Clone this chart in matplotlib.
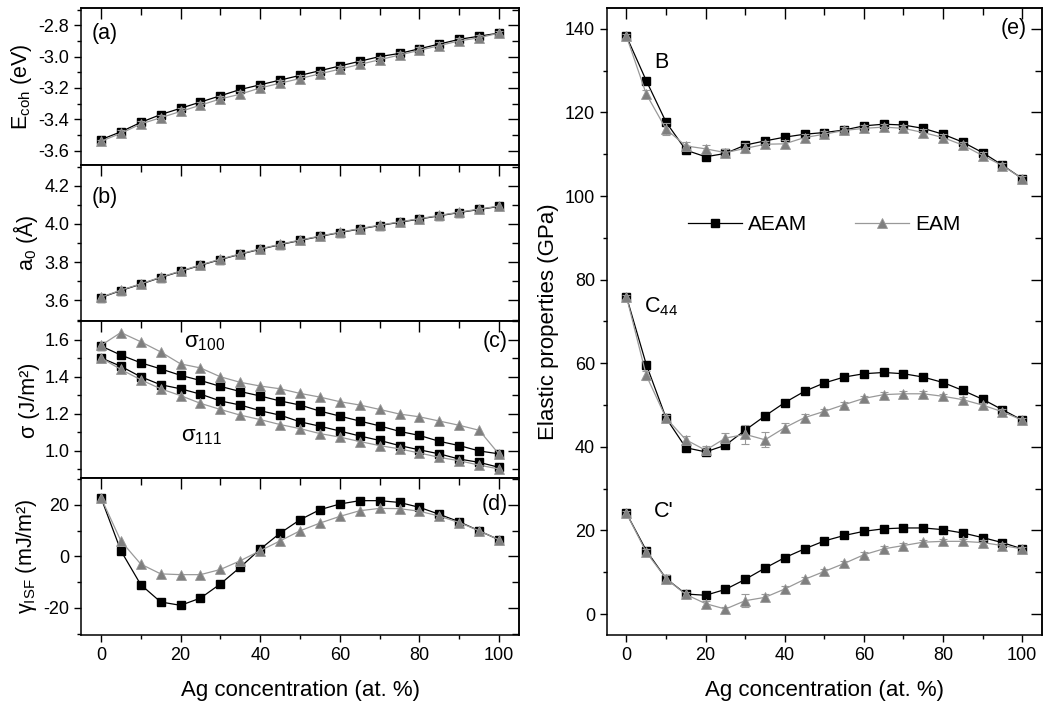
import matplotlib
matplotlib.use("Agg")
import matplotlib.pyplot as plt
from matplotlib.ticker import MultipleLocator

plt.rcParams["font.family"] = ["Liberation Sans", "DejaVu Sans"]
plt.rcParams["mathtext.fontset"] = "custom"
plt.rcParams["mathtext.rm"] = "Liberation Sans"
plt.rcParams["mathtext.it"] = "Liberation Sans"
plt.rcParams["axes.unicode_minus"] = False

ag = [0, 5, 10, 15, 20, 25, 30, 35, 40, 45, 50, 55, 60, 65, 70, 75, 80, 85, 90, 95, 100]

# (a) cohesive energy
ecoh_aeam = [-3.53, -3.48, -3.42, -3.37, -3.33, -3.29, -3.25, -3.21, -3.18, -3.15, -3.12,
             -3.09, -3.06, -3.03, -3.00, -2.98, -2.95, -2.92, -2.89, -2.87, -2.85]
ecoh_eam = [-3.54, -3.49, -3.43, -3.39, -3.35, -3.31, -3.27, -3.24, -3.20, -3.17, -3.14,
            -3.11, -3.08, -3.05, -3.02, -2.99, -2.96, -2.93, -2.90, -2.88, -2.85]
ecoh_eam_err = [0.01, 0.02, 0.02, 0.02, 0.02, 0.02, 0.02, 0.02, 0.02, 0.02, 0.02,
                0.02, 0.02, 0.02, 0.02, 0.02, 0.02, 0.02, 0.02, 0.02, 0.01]

# (b) lattice parameter
a0_aeam = [3.615, 3.652, 3.685, 3.72, 3.752, 3.784, 3.814, 3.842, 3.868, 3.892, 3.914,
           3.935, 3.955, 3.974, 3.992, 4.009, 4.026, 4.043, 4.060, 4.076, 4.092]
a0_eam = [3.617, 3.654, 3.687, 3.722, 3.754, 3.786, 3.816, 3.844, 3.870, 3.894, 3.916,
          3.937, 3.957, 3.976, 3.994, 4.011, 4.028, 4.045, 4.062, 4.078, 4.094]

# (c) surface energies
s100_aeam = [1.567, 1.518, 1.476, 1.443, 1.408, 1.38, 1.348, 1.32, 1.296, 1.269, 1.247,
             1.214, 1.187, 1.16, 1.134, 1.104, 1.082, 1.05, 1.027, 0.998, 0.982]
s100_eam = [1.57, 1.64, 1.59, 1.535, 1.47, 1.448, 1.40, 1.37, 1.35, 1.335, 1.31,
            1.29, 1.265, 1.247, 1.223, 1.198, 1.183, 1.16, 1.137, 1.11, 0.98]
s111_aeam = [1.503, 1.457, 1.40, 1.357, 1.335, 1.306, 1.269, 1.247, 1.216, 1.192, 1.156,
             1.132, 1.106, 1.079, 1.055, 1.027, 1.004, 0.982, 0.954, 0.936, 0.909]
s111_eam = [1.503, 1.44, 1.384, 1.335, 1.298, 1.256, 1.223, 1.192, 1.168, 1.141, 1.119,
            1.092, 1.073, 1.049, 1.027, 1.009, 0.987, 0.963, 0.945, 0.921, 0.90]

# (d) intrinsic stacking fault energy
isf_aeam = [22.8, 2.2, -11.0, -17.7, -19.0, -16.2, -10.7, -4.2, 2.8, 9.0, 14.2,
            18.1, 20.3, 21.6, 21.6, 20.9, 19.0, 16.3, 13.4, 9.9, 6.4]
isf_eam = [22.8, 6.0, -3.0, -6.8, -7.1, -7.1, -5.1, -1.7, 2.2, 6.0, 9.9,
           12.9, 15.5, 17.7, 18.6, 18.5, 17.5, 15.6, 13.1, 9.9, 6.4]

# (e) elastic properties
b_aeam = [138.2, 127.6, 117.7, 111.0, 109.4, 110.2, 112.2, 113.2, 114.1, 114.8, 115.2,
          115.8, 116.8, 117.2, 117.0, 116.2, 114.8, 112.9, 110.4, 107.4, 104.2]
b_eam = [138.2, 124.4, 116.0, 112.0, 111.3, 110.4, 111.4, 112.4, 112.5, 114.0, 114.8,
         115.7, 116.2, 116.5, 116.2, 115.2, 114.0, 112.2, 109.7, 107.3, 104.2]
b_eam_err = [0.5, 1.0, 1.5, 1.0, 1.0, 0.8, 1.2, 0.8, 1.0, 0.8, 0.8,
             0.8, 0.8, 0.8, 0.8, 0.8, 0.8, 0.8, 0.8, 0.6, 0.5]
c44_aeam = [75.9, 59.7, 46.9, 39.8, 38.8, 40.4, 44.0, 47.4, 50.6, 53.3, 55.3,
            56.7, 57.5, 57.8, 57.5, 56.7, 55.4, 53.5, 51.4, 48.9, 46.4]
c44_eam = [75.9, 57.1, 46.9, 41.7, 39.2, 42.1, 43.0, 41.7, 44.6, 47.0, 48.5,
           50.1, 51.6, 52.5, 52.7, 52.7, 52.1, 51.3, 50.0, 48.4, 46.4]
c44_eam_err = [0.5, 1.0, 0.8, 1.0, 1.0, 1.2, 2.2, 1.8, 1.0, 0.8, 0.6,
               0.6, 0.6, 0.6, 0.6, 0.6, 0.6, 0.6, 0.6, 0.6, 0.5]
cp_aeam = [24.1, 15.2, 8.5, 4.8, 4.5, 5.9, 8.3, 11.0, 13.5, 15.6, 17.5,
           18.8, 19.8, 20.4, 20.6, 20.6, 20.2, 19.4, 18.3, 17.1, 15.6]
cp_eam = [24.1, 14.8, 8.5, 4.7, 2.5, 1.2, 3.2, 4.0, 6.0, 8.3, 10.2,
          12.1, 14.2, 15.6, 16.4, 17.2, 17.4, 17.4, 17.1, 16.4, 15.6]
cp_eam_err = [0.5, 0.8, 0.8, 0.6, 0.6, 0.6, 1.6, 0.8, 0.6, 0.6, 0.6,
              0.6, 0.6, 0.6, 0.6, 0.6, 0.6, 0.6, 0.6, 0.6, 0.5]

BLACK = "black"
GREY = "#7f7f7f"
LGREY = "#999999"
TICK_FS = 13
LABEL_FS = 15.5
XLABEL_FS = 16
PANEL_FS = 15.5


def plot_aeam(ax, y, label=None):
    ax.plot(ag, y, color=BLACK, lw=0.9, marker="s", ms=6.3, mfc=BLACK, mec=BLACK,
            label=label, zorder=3)


def plot_eam(ax, y, yerr=None, label=None):
    if yerr is not None:
        ax.errorbar(ag, y, yerr=yerr, fmt="none", ecolor=LGREY, elinewidth=0.8,
                    capsize=3, capthick=0.8, zorder=3)
    ax.plot(ag, y, color=LGREY, lw=0.9, marker="^", ms=7.5, mfc=GREY, mec=LGREY,
            mew=0.6, label=label, zorder=4)


def style_axes(ax, ymajor, yminor, show_xlabels):
    ax.set_xlim(-5, 105)
    ax.xaxis.set_major_locator(MultipleLocator(20))
    ax.xaxis.set_minor_locator(MultipleLocator(10))
    ax.yaxis.set_major_locator(MultipleLocator(ymajor))
    ax.yaxis.set_minor_locator(MultipleLocator(yminor))
    ax.tick_params(which="major", direction="out", length=5, width=1, labelsize=TICK_FS)
    ax.tick_params(which="minor", direction="out", length=3, width=1)
    if not show_xlabels:
        ax.tick_params(axis="x", labelbottom=False)
    for sp in ax.spines.values():
        sp.set_linewidth(1.1)
    top = ax.secondary_xaxis("top")
    top.xaxis.set_major_locator(MultipleLocator(20))
    top.xaxis.set_minor_locator(MultipleLocator(10))
    top.tick_params(which="major", direction="in", length=8, width=1, labeltop=False)
    top.tick_params(which="minor", direction="in", length=5, width=1)
    right = ax.secondary_yaxis("right")
    right.yaxis.set_major_locator(MultipleLocator(ymajor))
    right.yaxis.set_minor_locator(MultipleLocator(yminor))
    right.tick_params(which="major", direction="in", length=8, width=1, labelright=False)
    right.tick_params(which="minor", direction="in", length=5, width=1)
    for s in (top, right):
        for sp in s.spines.values():
            sp.set_linewidth(1.1)


fig = plt.figure(figsize=(10.43, 7.06), dpi=100)

left, width = 0.0777, 0.4199
bottom, total_h = 0.1006, 0.8881
h = total_h / 4
ax_a = fig.add_axes([left, bottom + 3 * h, width, h])
ax_b = fig.add_axes([left, bottom + 2 * h, width, h])
ax_c = fig.add_axes([left, bottom + h, width, h])
ax_d = fig.add_axes([left, bottom, width, h])
ax_e = fig.add_axes([0.5817, bottom, 0.4173, total_h])

# (a)
plot_aeam(ax_a, ecoh_aeam)
plot_eam(ax_a, ecoh_eam, ecoh_eam_err)
ax_a.set_ylim(-3.69, -2.69)
style_axes(ax_a, 0.2, 0.1, False)
ax_a.set_ylabel(r"E$_{\mathrm{coh}}$ (eV)", fontsize=LABEL_FS, labelpad=3)
ax_a.text(0.025, 0.84, "(a)", transform=ax_a.transAxes, fontsize=PANEL_FS, va="center")

# (b)
plot_aeam(ax_b, a0_aeam)
plot_eam(ax_b, a0_eam)
ax_b.set_ylim(3.49, 4.31)
style_axes(ax_b, 0.2, 0.1, False)
ax_b.set_ylabel("a$_0$ (Å)", fontsize=LABEL_FS, labelpad=3)
ax_b.text(0.025, 0.79, "(b)", transform=ax_b.transAxes, fontsize=PANEL_FS, va="center")

# (c)
plot_aeam(ax_c, s100_aeam)
plot_aeam(ax_c, s111_aeam)
plot_eam(ax_c, s100_eam)
plot_eam(ax_c, s111_eam)
ax_c.set_ylim(0.85, 1.7)
style_axes(ax_c, 0.2, 0.1, False)
ax_c.set_ylabel("σ (J/m²)", fontsize=LABEL_FS, labelpad=3)
ax_c.text(0.975, 0.87, "(c)", transform=ax_c.transAxes, fontsize=PANEL_FS, ha="right", va="center")
ax_c.text(20.8, 1.585, r"σ$_{\mathrm{100}}$", fontsize=16, va="center")
ax_c.text(20.2, 1.075, r"σ$_{\mathrm{111}}$", fontsize=16, va="center")

# (d)
plot_aeam(ax_d, isf_aeam)
plot_eam(ax_d, isf_eam)
ax_d.set_ylim(-30.5, 30.3)
style_axes(ax_d, 20, 10, True)
ax_d.set_ylabel(r"γ$_{\mathrm{ISF}}$ (mJ/m²)", fontsize=LABEL_FS, labelpad=3)
ax_d.set_xlabel("Ag concentration (at. %)", fontsize=XLABEL_FS, labelpad=12)
ax_d.text(0.975, 0.83, "(d)", transform=ax_d.transAxes, fontsize=PANEL_FS, ha="right", va="center")

# (e)
plot_aeam(ax_e, b_aeam, label="AEAM")
plot_aeam(ax_e, c44_aeam)
plot_aeam(ax_e, cp_aeam)
plot_eam(ax_e, b_eam, b_eam_err, label="EAM")
plot_eam(ax_e, c44_eam, c44_eam_err)
plot_eam(ax_e, cp_eam, cp_eam_err)
ax_e.set_ylim(-5, 145)
style_axes(ax_e, 20, 10, True)
ax_e.set_ylabel("Elastic properties (GPa)", fontsize=XLABEL_FS)
ax_e.set_xlabel("Ag concentration (at. %)", fontsize=XLABEL_FS, labelpad=12)
ax_e.text(0.966, 0.968, "(e)", transform=ax_e.transAxes, fontsize=PANEL_FS, ha="right", va="center")
ax_e.text(7, 132, "B", fontsize=15.5, va="center")
ax_e.text(4.5, 73.5, r"C$_{\mathrm{44}}$", fontsize=15.5, va="center")
ax_e.text(7, 24.5, "C'", fontsize=15.5, va="center")
ax_e.legend(loc="center", bbox_to_anchor=(0.5, 0.655), ncol=2, frameon=False,
            fontsize=15, handlelength=2.6, columnspacing=2.3, handletextpad=0.3)

fig.savefig("out.png", dpi=100)
